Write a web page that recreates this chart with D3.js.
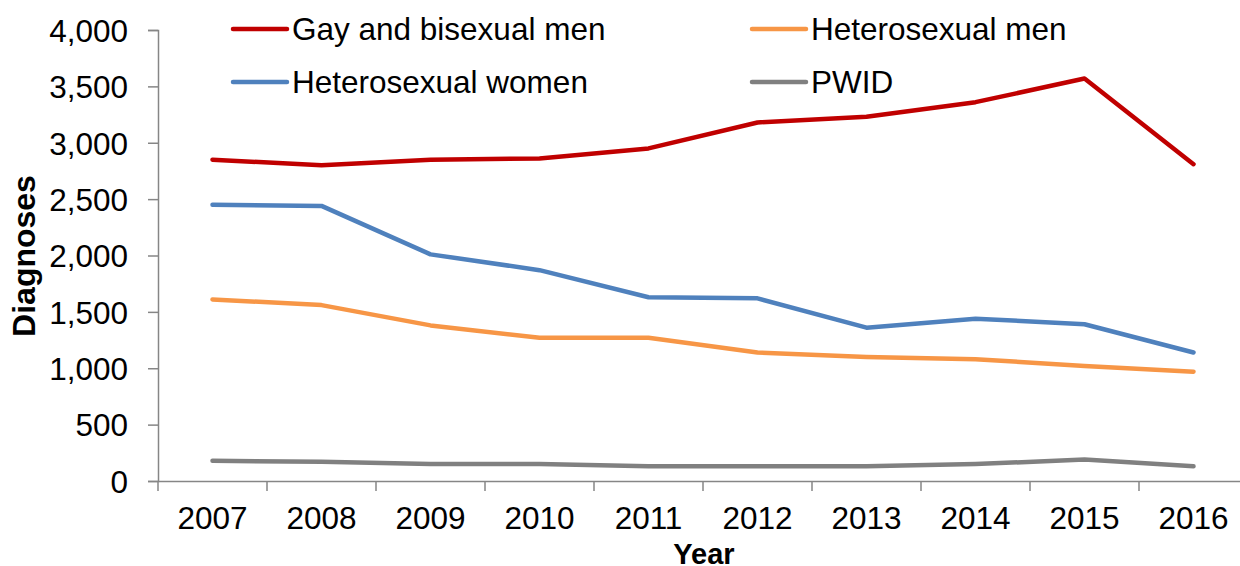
<!DOCTYPE html>
<html lang="en">
  <head>
    <meta charset="utf-8">
    <title>Diagnoses by exposure group</title>
    <style>
      body { margin: 0; background: #fff; }
      svg { display: block; }
      text { font-family: "Liberation Sans", Arial, sans-serif; fill: #000; }
    </style>
    <script src="https://d3js.org/d3.v7.min.js"></script>
  </head>
  <body>
    <div class="chart"></div>
    <script>
    const years = ["2007","2008","2009","2010","2011","2012","2013","2014","2015","2016"];
    const gayBi = [2850, 2800, 2850, 2860, 2950, 3180, 3230, 3360, 3570, 2810];
    const hetMen = [1610, 1560, 1380, 1270, 1270, 1140, 1100, 1080, 1020, 970];
    const hetWomen = [2450, 2440, 2010, 1870, 1630, 1620, 1360, 1440, 1390, 1140];
    const pwid = [180, 170, 150, 150, 130, 130, 130, 150, 190, 130];
    const yTicks = [0, 500, 1000, 1500, 2000, 2500, 3000, 3500, 4000];

    const series = [
      { name: "Gay and bisexual men", values: gayBi, color: "#C00000" },
      { name: "Heterosexual men", values: hetMen, color: "#F79646" },
      { name: "Heterosexual women", values: hetWomen, color: "#4F81BD" },
      { name: "PWID", values: pwid, color: "#808080" }
    ];

    const width = 1240, height = 566;
    const plot = { left: 158, right: 1248, top: 30, bottom: 481 };

    const svg = d3.select(".chart").append("svg")
      .attr("width", width)
      .attr("height", height);

    const x = d3.scaleBand()
      .domain(years)
      .range([plot.left, plot.right]);

    const y = d3.scaleLinear()
      .domain([0, 4000])
      .range([plot.bottom, plot.top]);

    // y axis
    const yAxis = svg.append("g")
      .attr("transform", `translate(${plot.left},0)`)
      .call(d3.axisLeft(y).tickValues(yTicks).tickFormat(d3.format(",")).tickSize(10).tickPadding(20));
    yAxis.select(".domain").attr("stroke", "#868686").attr("stroke-width", 1.5);
    yAxis.selectAll(".tick line").attr("stroke", "#868686").attr("stroke-width", 1.5);
    yAxis.selectAll(".tick text").style("font-size", "31.5px").attr("dy", "0.36em");

    // x axis
    const xAxis = svg.append("g")
      .attr("transform", `translate(0,${plot.bottom})`)
      .call(d3.axisBottom(x).tickSize(0));
    xAxis.select(".domain").attr("stroke", "#868686").attr("stroke-width", 1.5);
    xAxis.selectAll(".tick text").style("font-size", "31.5px").attr("y", 48).attr("dy", 0);
    xAxis.selectAll(".boundary")
      .data(years)
      .join("line")
      .attr("x1", d => x(d))
      .attr("x2", d => x(d))
      .attr("y1", 0)
      .attr("y2", 10)
      .attr("stroke", "#868686")
      .attr("stroke-width", 1.5);

    const line = d3.line()
      .x((d, i) => x(years[i]) + x.bandwidth() / 2)
      .y(d => y(d));

    svg.append("g").selectAll("path")
      .data(series)
      .join("path")
      .attr("d", d => line(d.values))
      .attr("fill", "none")
      .attr("stroke", d => d.color)
      .attr("stroke-width", 4.5)
      .attr("stroke-linecap", "round")
      .attr("stroke-linejoin", "round");

    // axis titles
    svg.append("text")
      .attr("transform", "translate(35,256) rotate(-90)")
      .attr("text-anchor", "middle")
      .style("font-size", "32px")
      .style("font-weight", "bold")
      .text("Diagnoses");

    svg.append("text")
      .attr("x", 704)
      .attr("y", 564)
      .attr("text-anchor", "middle")
      .style("font-size", "29px")
      .style("font-weight", "bold")
      .text("Year");

    // legend
    const legendPos = [
      { x: 233, y: 29 },
      { x: 752, y: 29 },
      { x: 233, y: 82 },
      { x: 752, y: 82 }
    ];
    const legend = svg.append("g").selectAll("g")
      .data(series)
      .join("g")
      .attr("transform", (d, i) => `translate(${legendPos[i].x},${legendPos[i].y})`);

    legend.append("line")
      .attr("x1", 0)
      .attr("x2", 54)
      .attr("stroke", d => d.color)
      .attr("stroke-width", 4.5)
      .attr("stroke-linecap", "round");

    legend.append("text")
      .attr("x", 59)
      .attr("dy", "0.36em")
      .style("font-size", "31.5px")
      .text(d => d.name);
    </script>
  </body>
</html>
